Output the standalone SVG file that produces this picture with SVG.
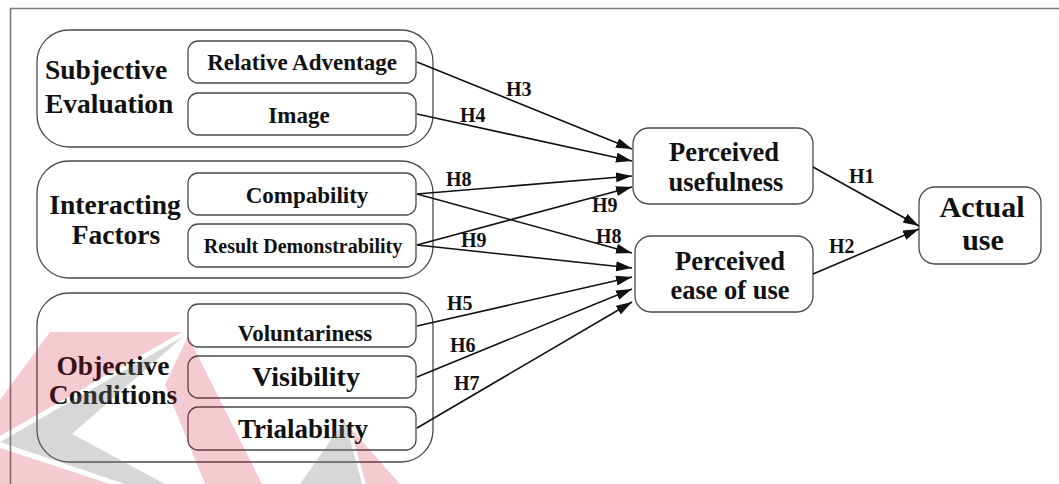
<svg xmlns="http://www.w3.org/2000/svg" width="1059" height="484" viewBox="0 0 1059 484">
  <style>
    .frame { fill: none; stroke: #7a7a7a; stroke-width: 1.6; }
    .grp { fill: #fff; stroke: #4a4a4a; stroke-width: 1.3; }
    .box { fill: #fff; stroke: #4a4a4a; stroke-width: 1.3; }
    .t { font-family: "Liberation Serif", "Times New Roman", serif; font-weight: bold; fill: #111; }
    .mid { text-anchor: middle; }
    .lbl { font-size: 27.5px; }
    .item { font-size: 23px; }
    .big { font-size: 26.5px; }
    .h { font-size: 20px; }
    .edge { fill: none; stroke: #111; stroke-width: 1.6; marker-end: url(#head); }
    .wm-red { fill: #c8102e; opacity: 0.22; }
    .wm-grey { fill: #7a7a7a; opacity: 0.3; }
  </style>
  <defs>
    <marker id="head" markerUnits="userSpaceOnUse" markerWidth="17" markerHeight="11" refX="16" refY="5" orient="auto">
      <path d="M0,0 L16,5 L0,10 Z" fill="#111"/>
    </marker>
  </defs>

  <rect width="1059" height="484" fill="#fff"/>
  <path class="frame" d="M10.5,484 V8.5 H1059"/>

  <!-- Subjective Evaluation -->
  <g id="subjective-evaluation">
    <rect class="grp" x="37" y="30" width="396" height="117" rx="32"/>
    <text class="t lbl" x="45" y="79">Subjective</text>
    <text class="t lbl" x="45" y="113">Evaluation</text>
  </g>
  <g id="relative-advantage">
    <rect class="box" x="188" y="41" width="228" height="42" rx="10"/>
    <text class="t item mid" x="302" y="70">Relative Adventage</text>
  </g>
  <g id="image">
    <rect class="box" x="188" y="93" width="228" height="42" rx="10"/>
    <text class="t item mid" x="299" y="123">Image</text>
  </g>

  <!-- Interacting Factors -->
  <g id="interacting-factors">
    <rect class="grp" x="37" y="161" width="396" height="117" rx="32"/>
    <text class="t lbl mid" x="115" y="214">Interacting</text>
    <text class="t lbl mid" x="116" y="244">Factors</text>
  </g>
  <g id="compatibility">
    <rect class="box" x="188" y="173" width="228" height="42" rx="10"/>
    <text class="t item mid" x="307" y="203">Compability</text>
  </g>
  <g id="result-demonstrability">
    <rect class="box" x="188" y="224" width="228" height="43" rx="10"/>
    <text class="t mid" style="font-size:20px" x="303" y="253">Result Demonstrability</text>
  </g>

  <!-- Objective Conditions -->
  <g id="objective-conditions">
    <rect class="grp" x="37" y="293" width="396" height="169" rx="32"/>
    <text class="t lbl mid" x="113" y="375">Objective</text>
    <text class="t lbl mid" x="113" y="404">Conditions</text>
  </g>
  <g id="voluntariness">
    <rect class="box" x="188" y="304" width="228" height="43" rx="10"/>
    <text class="t item mid" x="305" y="341">Voluntariness</text>
  </g>
  <g id="visibility">
    <rect class="box" x="188" y="356" width="228" height="42" rx="10"/>
    <text class="t mid" style="font-size:28px" x="306" y="386">Visibility</text>
  </g>
  <g id="trialability">
    <rect class="box" x="188" y="407" width="228" height="43" rx="10"/>
    <text class="t mid" style="font-size:27px" x="303" y="438">Trialability</text>
  </g>

  <!-- Outcome constructs -->
  <g id="perceived-usefulness">
    <rect class="box" x="633" y="128" width="180" height="76" rx="16"/>
    <text class="t big mid" x="724" y="161">Perceived</text>
    <text class="t big mid" x="726" y="191">usefulness</text>
  </g>
  <g id="perceived-ease-of-use">
    <rect class="box" x="635" y="236" width="178" height="76" rx="16"/>
    <text class="t big mid" x="730" y="270">Perceived</text>
    <text class="t big mid" x="730" y="299">ease of use</text>
  </g>
  <g id="actual-use">
    <rect class="box" x="919" y="187" width="122" height="77" rx="16"/>
    <text class="t mid" style="font-size:30px" x="982" y="217">Actual</text>
    <text class="t mid" style="font-size:30px" x="983" y="250">use</text>
  </g>

  <!-- Hypothesised paths -->
  <g id="connectors">
    <path class="edge" d="M417,62 L632,149"/>
    <path class="edge" d="M417,114 L632,161"/>
    <path class="edge" d="M417,194 L632,176"/>
    <path class="edge" d="M417,245 L632,187"/>
    <path class="edge" d="M417,194 L632,253"/>
    <path class="edge" d="M417,245 L632,268"/>
    <path class="edge" d="M417,326 L632,277"/>
    <path class="edge" d="M417,377 L632,289"/>
    <path class="edge" d="M417,428 L632,302"/>
    <path class="edge" d="M813,167 L919,226"/>
    <path class="edge" d="M813,274 L919,229"/>
    <text class="t h" x="506" y="96">H3</text>
    <text class="t h" x="460" y="122">H4</text>
    <text class="t h" x="446" y="186">H8</text>
    <text class="t h" x="592" y="212">H9</text>
    <text class="t h" x="596" y="243">H8</text>
    <text class="t h" x="461" y="247">H9</text>
    <text class="t h" x="447" y="310">H5</text>
    <text class="t h" x="450" y="352">H6</text>
    <text class="t h" x="454" y="390">H7</text>
    <text class="t h" x="849" y="183">H1</text>
    <text class="t h" x="829" y="253">H2</text>
  </g>

  <!-- Faint logo mark, bottom left -->
  <g id="logo-mark">
    <polygon class="wm-red" points="50,332 182,332 0,436 0,400"/>
    <polygon class="wm-grey" points="184,336 0,442 125,484 165,484 72,434"/>
    <polygon class="wm-red" points="0,448 110,484 0,484"/>
    <polygon class="wm-red" points="188,336 262,484 205,484 165,385"/>
    <polygon class="wm-grey" points="345,420 362,484 300,484"/>
    <polygon class="wm-red" points="350,428 400,484 366,484"/>
  </g>
</svg>
